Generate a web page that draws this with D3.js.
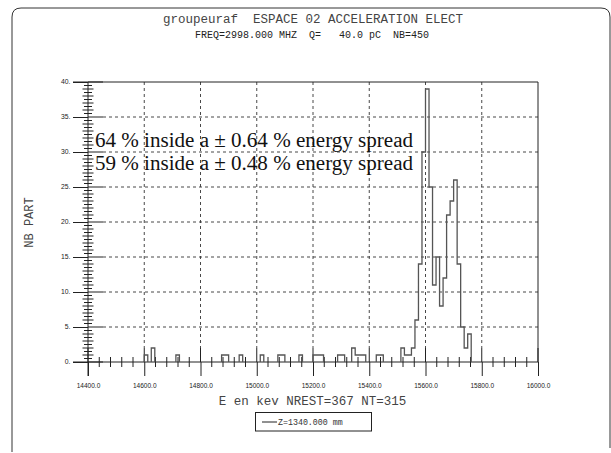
<!DOCTYPE html>
<html><head><meta charset="utf-8">
<script src="https://cdn.jsdelivr.net/npm/d3@7"></script>
<style>
html,body{margin:0;padding:0;background:#fff;}
svg{display:block;}
</style></head>
<body>
<svg id="chart" width="611" height="453"></svg>
<script>
// ---- data ----
const binWidthKeV = 12.5;
const binStartKeV = [14600, 14625, 14712.5, 14875, 14887.5, 14937.5, 15012.5, 15075, 15087.5, 15150,
  15200, 15212.5, 15225, 15287.5, 15300, 15337.5, 15350, 15362.5, 15375, 15425, 15437.5,
  15512.5, 15525, 15537.5, 15550, 15562.5, 15575, 15587.5, 15600, 15612.5, 15625, 15637.5,
  15650, 15662.5, 15675, 15687.5, 15700, 15712.5, 15725, 15737.5, 15750];
const nbPart = [1, 2, 1, 1, 1, 1, 1, 1, 1, 1,
  1, 1, 1, 1, 1, 2, 1, 1, 1, 1, 1,
  2, 1, 1, 2, 6, 14, 30, 39, 25, 11, 15,
  8, 12, 21, 23, 26, 14, 5, 2, 4];
const xTickValues = [14400, 14600, 14800, 15000, 15200, 15400, 15600, 15800, 16000];
const yTickValues = [0, 5, 10, 15, 20, 25, 30, 35, 40];
const titleText = "groupeuraf  ESPACE 02 ACCELERATION ELECT";
const subtitleText = "FREQ=2998.000 MHZ  Q=   40.0 pC  NB=450";
const xLabelText = "E en kev NREST=367 NT=315";
const yLabelText = "NB PART";
const legendText = "Z=1340.000 mm";
const noteLines = ["64 % inside a \u00B1 0.64 % energy spread", "59 % inside a \u00B1 0.48 % energy spread"];

// ---- drawing ----
const svg = d3.select("#chart");
const mono = "'Liberation Mono', 'DejaVu Sans Mono', monospace";
const sans = "'Liberation Sans', Arial, sans-serif";
const serif = "'Liberation Serif', 'Times New Roman', serif";
const ink = "#222";

const x = d3.scaleLinear().domain([14400, 16000]).range([88, 538]);
const y = d3.scaleLinear().domain([0, 40]).range([362, 82]);
const x0 = x.range()[0], x1 = x.range()[1];
const yb = y(0), yt = y(40);

// outer page border
svg.append("path")
  .attr("d", "M12,452 L12,17 Q12,8 21,8 L601,8 Q610,8 610,17 L610,448")
  .attr("fill", "none").attr("stroke", "#333").attr("stroke-width", 1);

// titles
svg.append("text").attr("x", 313).attr("y", 23).attr("text-anchor", "middle")
  .attr("font-family", mono).attr("font-size", 12.5).attr("fill", "#444")
  .style("white-space", "pre").text(titleText);
svg.append("text").attr("x", 312).attr("y", 37.5).attr("text-anchor", "middle")
  .attr("font-family", mono).attr("font-size", 10).attr("fill", "#222")
  .style("white-space", "pre").text(subtitleText);

// grid (dashed)
const grid = svg.append("g").attr("stroke", "#333").attr("stroke-width", 0.9)
  .attr("stroke-dasharray", "3,3");
grid.selectAll("line.v").data(xTickValues.filter(v => v > 14400 && v < 16000)).join("line")
  .attr("x1", d => x(d)).attr("x2", d => x(d)).attr("y1", yt).attr("y2", yb - 14);
grid.selectAll("line.h").data(yTickValues.filter(v => v > 0 && v < 40)).join("line")
  .attr("y1", d => y(d)).attr("y2", d => y(d)).attr("x1", x0 + 15).attr("x2", x1);

// minor ticks
const minor = svg.append("g").attr("stroke", ink).attr("stroke-width", 1);
const xMinor = d3.range(14400, 16000, 40).filter(v => v % 200 !== 0);
minor.selectAll("line.xm").data(xMinor).join("line")
  .attr("x1", d => x(d)).attr("x2", d => x(d)).attr("y1", yb - 5).attr("y2", yb + 5);
const yMinor = d3.range(0.5, 40, 0.5).filter(v => v % 5 !== 0);
minor.selectAll("line.ym").data(yMinor).join("line")
  .attr("y1", d => y(d)).attr("y2", d => y(d))
  .attr("x1", d => x0 - (d % 1 === 0 ? 5.5 : 4)).attr("x2", d => x0 + (d % 1 === 0 ? 5.5 : 4));

// axes with d3 axis generators (outer half of major ticks + labels)
const xAxis = svg.append("g").attr("transform", `translate(0,${yb})`)
  .call(d3.axisBottom(x).tickValues(xTickValues).tickFormat(d3.format(".1f"))
    .tickSizeInner(14).tickSizeOuter(0).tickPadding(6));
xAxis.select(".domain").remove();
xAxis.selectAll(".tick line").attr("stroke", ink);
xAxis.selectAll(".tick text").attr("font-family", sans).attr("font-size", 6.5).attr("fill", ink)
  .attr("dy", null).attr("y", 25.5);

const yAxis = svg.append("g").attr("transform", `translate(${x0},0)`)
  .call(d3.axisLeft(y).tickValues(yTickValues).tickFormat(d => d3.format("d")(d) + ".")
    .tickSizeInner(15).tickSizeOuter(0).tickPadding(2.5));
yAxis.select(".domain").remove();
yAxis.selectAll(".tick line").attr("stroke", ink);
yAxis.selectAll(".tick text").attr("font-family", sans).attr("font-size", 6.8).attr("fill", ink)
  .attr("dy", null).attr("y", 1.2);

// inner half of major ticks
const major = svg.append("g").attr("stroke", ink).attr("stroke-width", 1);
major.selectAll("line.xM").data(xTickValues).join("line")
  .attr("x1", d => x(d)).attr("x2", d => x(d)).attr("y1", yb - 14).attr("y2", yb);
major.selectAll("line.yM").data(yTickValues).join("line")
  .attr("y1", d => y(d)).attr("y2", d => y(d)).attr("x1", x0).attr("x2", x0 + 15);

// frame lines
const frame = svg.append("g").attr("stroke", ink).attr("stroke-width", 1).attr("fill", "none");
frame.append("line").attr("x1", x0 - 15).attr("x2", x1).attr("y1", yt).attr("y2", yt);
frame.append("line").attr("x1", x0 - 15).attr("x2", x1).attr("y1", yb).attr("y2", yb);
frame.append("line").attr("x1", x1).attr("x2", x1).attr("y1", yt).attr("y2", yb);
frame.append("line").attr("x1", x0).attr("x2", x0).attr("y1", yt).attr("y2", yb + 14);

// histogram (step outline of contiguous runs)
const bins = binStartKeV.map((s, i) => ({lo: s, hi: s + binWidthKeV, n: nbPart[i]}));
const runs = [];
bins.forEach(b => {
  const last = runs.length ? runs[runs.length - 1] : null;
  if (last && Math.abs(last[last.length - 1].hi - b.lo) < 1e-6) last.push(b);
  else runs.push([b]);
});
const pathFor = run => {
  let p = d3.path();
  p.moveTo(x(run[0].lo), y(0));
  run.forEach(b => { p.lineTo(x(b.lo), y(b.n)); p.lineTo(x(b.hi), y(b.n)); });
  p.lineTo(x(run[run.length - 1].hi), y(0));
  return p.toString();
};
svg.append("g").selectAll("path").data(runs).join("path")
  .attr("d", pathFor).attr("fill", "none").attr("stroke", "#555").attr("stroke-width", 1.3);

// annotations
svg.selectAll("text.note").data(noteLines).join("text").attr("class", "note")
  .attr("x", 95).attr("y", (d, i) => 147 + i * 23)
  .attr("font-family", serif).attr("font-size", 20).attr("fill", "#111")
  .attr("textLength", 318).attr("lengthAdjust", "spacingAndGlyphs").text(d => d);

// axis titles
svg.append("text").attr("x", 312.5).attr("y", 405).attr("text-anchor", "middle")
  .attr("font-family", mono).attr("font-size", 12.5).attr("fill", "#444").text(xLabelText);
svg.append("text").attr("transform", "translate(33,222.5) rotate(-90)").attr("text-anchor", "middle")
  .attr("font-family", mono).attr("font-size", 12).attr("fill", "#444").text(yLabelText);

// legend
svg.append("rect").attr("x", 255.5).attr("y", 412.5).attr("width", 116).attr("height", 18.5)
  .attr("fill", "none").attr("stroke", ink).attr("stroke-width", 1);
svg.append("line").attr("x1", 262).attr("x2", 277).attr("y1", 422).attr("y2", 422)
  .attr("stroke", ink).attr("stroke-width", 1);
svg.append("text").attr("x", 278).attr("y", 424.5).attr("font-family", mono).attr("font-size", 8.3)
  .attr("fill", "#333").text(legendText);
</script>
</body></html>
